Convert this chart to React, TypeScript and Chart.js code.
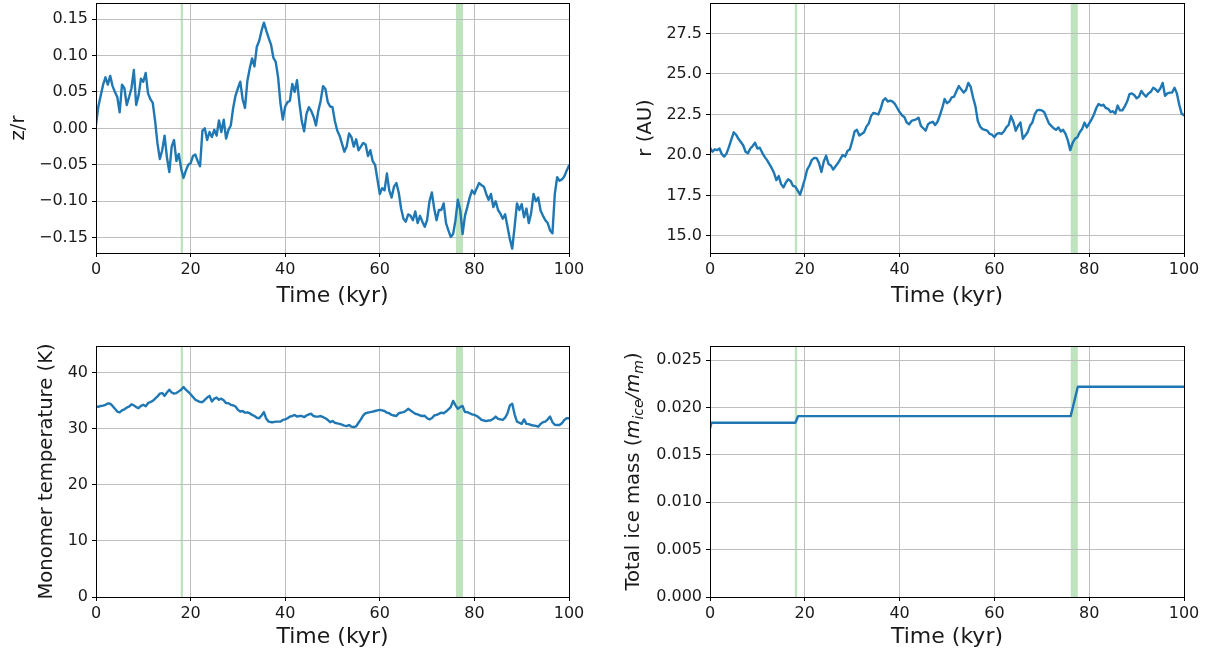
import React, { useEffect, useRef } from "react";
import { Chart, registerables } from "chart.js";

Chart.register(...registerables);

// ---- data -------------------------------------------------------------
// Time series are sampled every T_STEP kyr starting at t = 0.
const T_STEP = 0.5;

const Z_OVER_R = [
  0.005, 0.03, 0.045, 0.06, 0.07, 0.06, 0.072, 0.058, 0.05, 0.043,
  0.022, 0.06, 0.055, 0.032, 0.043, 0.055, 0.08, 0.032, 0.045, 0.068,
  0.064, 0.076, 0.048, 0.04, 0.035, 0.01, -0.021, -0.042, -0.03, -0.01,
  -0.04, -0.06, -0.025, -0.016, -0.045, -0.035, -0.055, -0.068, -0.058, -0.05,
  -0.048, -0.038, -0.036, -0.045, -0.052, -0.003, 0.0, -0.016, -0.005, -0.012,
  -0.002, -0.01, 0.011, -0.005, 0.012, -0.014, -0.002, 0.004, 0.028, 0.045,
  0.055, 0.064, 0.04, 0.028, 0.065, 0.082, 0.096, 0.085, 0.112, 0.12,
  0.134, 0.145, 0.134, 0.124, 0.115, 0.097, 0.091, 0.07, 0.034, 0.012,
  0.03, 0.036, 0.038, 0.061, 0.05, 0.066, 0.035, 0.01, -0.004, 0.02,
  0.029, 0.024, 0.016, 0.004, 0.024, 0.038, 0.058, 0.054, 0.036, 0.03,
  0.029, 0.01, -0.003, -0.01, -0.021, -0.032, -0.025, -0.007, -0.012, -0.025,
  -0.015, -0.03, -0.025, -0.02, -0.022, -0.038, -0.03, -0.045, -0.05, -0.07,
  -0.09, -0.082, -0.085, -0.062, -0.085, -0.095, -0.08, -0.075, -0.088, -0.11,
  -0.124, -0.128, -0.118, -0.12, -0.126, -0.114, -0.13, -0.12, -0.128, -0.135,
  -0.126, -0.1, -0.088, -0.11, -0.126, -0.112, -0.112, -0.103, -0.13, -0.14,
  -0.149, -0.145, -0.126, -0.098, -0.112, -0.145, -0.12, -0.108, -0.095, -0.085,
  -0.09, -0.082, -0.075, -0.078, -0.08, -0.09, -0.098, -0.09, -0.108, -0.1,
  -0.112, -0.117, -0.124, -0.118, -0.135, -0.152, -0.165, -0.135, -0.103, -0.112,
  -0.104, -0.122, -0.11, -0.13, -0.116, -0.09, -0.1, -0.095, -0.113, -0.12,
  -0.126, -0.13, -0.14, -0.144, -0.09, -0.067, -0.072, -0.07, -0.066, -0.058,
  -0.051,
];

const R_AU = [
  20.45, 20.2, 20.35, 20.3, 20.4, 20.05, 19.9, 20.1, 20.5, 20.95,
  21.4, 21.25, 21.0, 20.8, 20.6, 20.2, 20.1, 20.4, 20.55, 20.75,
  20.4, 20.45, 20.15, 19.9, 19.7, 19.45, 19.2, 18.9, 18.45, 18.7,
  18.2, 18.0, 18.3, 18.5, 18.4, 18.1, 18.05, 17.8, 17.55, 18.0,
  18.5, 19.1, 19.35, 19.7, 19.82, 19.8, 19.5, 18.95, 19.6, 19.95,
  19.45, 19.35, 19.1, 19.3, 19.5, 19.75, 20.0, 19.9, 20.25, 20.35,
  20.85, 21.45, 21.55, 21.2, 21.3, 21.4, 21.75, 21.95, 22.42, 22.6,
  22.55, 22.5, 22.85, 23.35, 23.5, 23.3, 23.35, 23.3, 23.15, 22.9,
  22.65, 22.45, 22.35, 22.0, 21.9, 22.1, 22.15, 22.2, 22.3, 21.8,
  21.65, 21.5, 21.9, 22.0, 22.05, 21.85, 22.05, 22.45, 22.9, 23.45,
  23.2, 23.3, 23.55, 23.6, 23.95, 24.25, 24.05, 23.85, 24.0, 24.45,
  24.2, 23.55, 23.0, 22.1, 21.75, 21.6, 21.55, 21.5, 21.3, 21.25,
  21.1, 21.3, 21.35, 21.3, 21.45, 21.7, 21.85, 22.4, 22.05, 21.5,
  21.8, 22.0, 21.0, 21.2, 21.4, 21.8, 22.0, 22.5, 22.75, 22.78,
  22.75, 22.65, 22.3, 21.95, 21.8, 21.65, 21.55, 21.7, 21.45, 21.55,
  21.3, 20.9, 20.3, 20.75, 21.0, 21.1, 21.4, 21.6, 22.0, 21.7,
  21.95, 22.2, 22.5, 22.9, 23.15, 23.05, 23.1, 22.9, 22.85, 22.65,
  22.7, 22.55, 23.05, 22.75, 22.75, 23.0, 23.3, 23.75, 23.8, 23.7,
  23.5, 23.6, 23.95, 23.75, 23.6, 23.8, 23.9, 24.15, 24.05, 23.9,
  24.1, 24.45, 23.65, 23.8, 23.85, 23.85, 24.15, 23.8, 23.1, 22.55,
  22.45,
];

const TEMP_K = [
  34.0, 33.95, 34.1, 34.15, 34.3, 34.55, 34.5, 34.1, 33.6, 33.1,
  32.95, 33.3, 33.5, 33.8, 34.0, 34.4, 34.2, 33.9, 33.7, 34.1,
  34.3, 34.05, 34.6, 34.8, 35.0, 35.4, 35.8, 36.3, 36.4, 35.9,
  36.5, 37.0, 36.5, 36.3, 36.4, 36.7, 37.0, 37.5, 37.0, 36.6,
  36.2, 35.7, 35.2, 35.0, 34.8, 34.8, 35.2, 35.6, 35.9, 34.9,
  35.4, 35.6, 35.2, 35.4, 35.1, 34.6, 34.6, 34.3, 34.2, 34.0,
  33.4, 33.1, 33.2, 32.9, 32.95, 32.8, 32.5, 32.3, 32.0, 31.9,
  32.4, 33.0, 31.8, 31.3, 31.2, 31.2, 31.3, 31.3, 31.3, 31.6,
  31.7, 31.9, 32.2, 32.3, 32.5, 32.2, 32.3, 32.3, 32.1, 32.4,
  32.6, 32.7, 32.3, 32.2, 32.2, 32.3, 32.1, 31.9, 31.6, 31.2,
  31.4, 31.1, 31.0, 30.9, 30.75, 30.6, 30.5, 30.7, 30.4, 30.35,
  30.45, 31.1, 31.7, 32.4, 32.8, 32.9, 33.0, 33.1, 33.2, 33.3,
  33.4, 33.3, 33.2, 32.9, 32.8, 32.5, 32.4, 32.3, 32.8, 32.9,
  33.0, 33.2, 33.6, 33.3, 33.0, 32.7, 32.6, 32.4, 32.3, 32.35,
  31.9, 31.7, 31.9, 32.4, 32.5, 32.7, 32.9, 32.8, 33.1, 33.5,
  33.9, 35.0, 34.2, 33.6, 33.9, 34.1, 33.0, 33.0, 32.8, 32.6,
  32.5, 32.3, 32.0, 31.6, 31.5, 31.4, 31.5, 31.55, 31.8, 32.2,
  31.8, 31.7, 31.6, 32.0, 32.8, 34.2, 34.5, 32.6, 31.3, 31.1,
  30.9, 31.7, 30.9, 30.85, 30.7, 30.6, 30.55, 30.4, 30.9, 31.2,
  31.3, 31.7, 32.2, 31.2, 30.75, 30.7, 30.7, 31.0, 31.6, 31.9,
  31.9,
];

// Ice mass is piecewise: flat plateaus joined by short ramps.
const ICE_TIME = [0, 0.3, 18.0, 18.6, 76.1, 77.6, 100];
const ICE_MASS = [0.0178, 0.0184, 0.0184, 0.0191, 0.0191, 0.0222, 0.0222];

// Shaded intervals (kyr) where ice is deposited.
const BAND_START = [0, 17.9, 76.1];
const BAND_END = [0.2, 18.4, 77.6];

const TIME_TICKS = [0, 20, 40, 60, 80, 100];
const ZR_TICKS = [-0.15, -0.1, -0.05, 0, 0.05, 0.1, 0.15];
const R_TICKS = [15, 17.5, 20, 22.5, 25, 27.5];
const TEMP_TICKS = [0, 10, 20, 30, 40];
const ICE_TICKS = [0, 0.005, 0.01, 0.015, 0.02, 0.025];

// ---- styling ----------------------------------------------------------
const FONT = "'DejaVu Sans', 'Liberation Sans', sans-serif";
const TEXT = "#1a1a1a";
const GRID = "#bebebe";
const LINE = "#1f77b4";
const BAND = "rgba(44,160,44,0.3)";
const TICK_SIZE = 16;
const XTITLE_SIZE = 22;
const YTITLE_SIZE = 19.6;

type Pt = { x: number; y: number };

type PanelSpec = {
  key: string;
  left: number;
  top: number;
  width: number;
  height: number;
  plot: { left: number; top: number; right: number; bottom: number };
  yMin: number;
  yMax: number;
  yTicks: number[];
  decimals: number;
  yTitle: string | null;
  yTitleCenter: number;
  xTitleCenter: number;
  points: Pt[];
};

const series = (values: number[]): Pt[] =>
  values.map((v, i) => ({ x: i * T_STEP, y: v }));

const PANELS: PanelSpec[] = [
  {
    key: "zr",
    left: 0, top: 0, width: 606, height: 312,
    plot: { left: 96, top: 3, right: 569, bottom: 253 },
    yMin: -0.171, yMax: 0.172, yTicks: ZR_TICKS, decimals: 2,
    yTitle: "z/r", yTitleCenter: 18.5, xTitleCenter: 296,
    points: series(Z_OVER_R),
  },
  {
    key: "r",
    left: 606, top: 0, width: 606, height: 312,
    plot: { left: 710, top: 3, right: 1184, bottom: 253 },
    yMin: 13.95, yMax: 29.38, yTicks: R_TICKS, decimals: 1,
    yTitle: "r (AU)", yTitleCenter: 646, xTitleCenter: 296,
    points: series(R_AU),
  },
  {
    key: "temp",
    left: 0, top: 312, width: 606, height: 343,
    plot: { left: 96, top: 346, right: 569, bottom: 597 },
    yMin: 0, yMax: 44.8, yTicks: TEMP_TICKS, decimals: 0,
    yTitle: "Monomer temperature (K)", yTitleCenter: 47, xTitleCenter: 637,
    points: series(TEMP_K),
  },
  {
    key: "ice",
    left: 606, top: 312, width: 606, height: 343,
    plot: { left: 710, top: 346, right: 1184, bottom: 597 },
    yMin: 0, yMax: 0.0265, yTicks: ICE_TICKS, decimals: 3,
    yTitle: null, yTitleCenter: 633, xTitleCenter: 637,
    points: ICE_TIME.map((t, i) => ({ x: t, y: ICE_MASS[i] })),
  },
];

const fmt = (v: number, decimals: number) =>
  v.toFixed(decimals).replace("-", "\u2212");

// Shaded vertical spans behind the grid.
const bandsPlugin = {
  id: "bands",
  beforeDraw(chart: any) {
    const { ctx, chartArea: a, scales } = chart;
    const x = scales.x;
    ctx.save();
    ctx.fillStyle = BAND;
    BAND_START.forEach((s, i) => {
      const x0 = x.getPixelForValue(s);
      const x1 = x.getPixelForValue(BAND_END[i]);
      ctx.fillRect(x0, a.top, Math.max(x1 - x0, 1), a.bottom - a.top);
    });
    ctx.restore();
  },
};

// Full box around the plot area.
const framePlugin = {
  id: "frame",
  afterDraw(chart: any) {
    const { ctx, chartArea: a } = chart;
    ctx.save();
    ctx.strokeStyle = "#000";
    ctx.lineWidth = 1;
    ctx.strokeRect(
      Math.round(a.left) + 0.5,
      Math.round(a.top) + 0.5,
      Math.round(a.right) - Math.round(a.left),
      Math.round(a.bottom) - Math.round(a.top)
    );
    ctx.restore();
  },
};

// Y title with math-style subscripts: Total ice mass (m_ice / m_m)
const iceTitlePlugin = (cxPage: number, spec: PanelSpec) => ({
  id: "iceTitle",
  afterDraw(chart: any) {
    const { ctx } = chart;
    const sub = Math.round(YTITLE_SIZE * 0.7);
    const parts = [
      { text: "Total ice mass (", style: "normal", size: YTITLE_SIZE, dy: 0 },
      { text: "m", style: "italic", size: YTITLE_SIZE, dy: 0 },
      { text: "ice", style: "italic", size: sub, dy: 4 },
      { text: "/", style: "italic", size: YTITLE_SIZE, dy: 0 },
      { text: "m", style: "italic", size: YTITLE_SIZE, dy: 0 },
      { text: "m", style: "italic", size: sub, dy: 4 },
      { text: ")", style: "normal", size: YTITLE_SIZE, dy: 0 },
    ];
    ctx.save();
    let total = 0;
    const widths = parts.map((p) => {
      ctx.font = `${p.style} ${p.size}px ${FONT}`;
      const w = ctx.measureText(p.text).width;
      total += w;
      return w;
    });
    const cx = cxPage - spec.left;
    const cy = (spec.plot.top + spec.plot.bottom) / 2 - spec.top;
    ctx.translate(cx + YTITLE_SIZE * 0.3, cy);
    ctx.rotate(-Math.PI / 2);
    ctx.fillStyle = TEXT;
    ctx.textBaseline = "alphabetic";
    ctx.textAlign = "left";
    let x = -total / 2;
    parts.forEach((p, i) => {
      ctx.font = `${p.style} ${p.size}px ${FONT}`;
      ctx.fillText(p.text, x, p.dy);
      x += widths[i];
    });
    ctx.restore();
  },
});

function buildConfig(spec: PanelSpec): any {
  const yAxisWidth = spec.plot.left - spec.left;
  const xAxisHeight = spec.top + spec.height - spec.plot.bottom;
  const padTop = spec.plot.top - spec.top;
  const padRight = spec.left + spec.width - spec.plot.right;
  const xTitlePad = spec.top + spec.height - spec.xTitleCenter - (XTITLE_SIZE * 1.2) / 2;
  const yTitlePad = spec.yTitleCenter - spec.left - (YTITLE_SIZE * 1.2) / 2;

  const plugins: any[] = [bandsPlugin, framePlugin];
  if (!spec.yTitle) plugins.push(iceTitlePlugin(spec.yTitleCenter, spec));

  return {
    type: "line",
    data: {
      datasets: [
        {
          data: spec.points,
          borderColor: LINE,
          borderWidth: 2.4,
          pointRadius: 0,
          tension: 0,
          fill: false,
          borderJoinStyle: "round",
          borderCapStyle: "round",
        },
      ],
    },
    options: {
      animation: false,
      responsive: false,
      maintainAspectRatio: false,
      events: [],
      layout: { padding: { top: padTop, right: padRight, left: 0, bottom: 0 } },
      plugins: {
        legend: { display: false },
        tooltip: { enabled: false },
        title: { display: false },
      },
      scales: {
        x: {
          type: "linear",
          min: 0,
          max: 100,
          afterBuildTicks: (s: any) => {
            s.ticks = TIME_TICKS.map((v) => ({ value: v }));
          },
          afterFit: (s: any) => {
            s.height = xAxisHeight;
            s.paddingLeft = 0;
            s.paddingRight = 0;
          },
          ticks: {
            autoSkip: false,
            maxRotation: 0,
            padding: 3,
            color: TEXT,
            font: { family: FONT, size: TICK_SIZE },
            callback: (v: number) => String(v),
          },
          grid: {
            color: GRID,
            lineWidth: 1,
            tickColor: "#000",
            tickLength: 4,
            drawTicks: true,
          },
          border: { display: false },
          title: {
            display: true,
            text: "Time (kyr)",
            color: TEXT,
            font: { family: FONT, size: XTITLE_SIZE },
            padding: { top: 0, bottom: xTitlePad },
          },
        },
        y: {
          type: "linear",
          min: spec.yMin,
          max: spec.yMax,
          afterBuildTicks: (s: any) => {
            s.ticks = spec.yTicks.map((v) => ({ value: v }));
          },
          afterFit: (s: any) => {
            s.width = yAxisWidth;
            s.paddingTop = 0;
            s.paddingBottom = 0;
          },
          ticks: {
            autoSkip: false,
            padding: 4,
            color: TEXT,
            font: { family: FONT, size: TICK_SIZE },
            callback: (v: number) => fmt(v, spec.decimals),
          },
          grid: {
            color: GRID,
            lineWidth: 1,
            tickColor: "#000",
            tickLength: 4,
            drawTicks: true,
          },
          border: { display: false },
          title: {
            display: !!spec.yTitle,
            text: spec.yTitle || "",
            color: TEXT,
            font: { family: FONT, size: YTITLE_SIZE },
            padding: { top: yTitlePad, bottom: 0 },
          },
        },
      },
    },
    plugins,
  };
}

function Panel({ spec }: { spec: PanelSpec }) {
  const ref = useRef<HTMLCanvasElement | null>(null);
  useEffect(() => {
    if (!ref.current) return;
    const chart = new Chart(ref.current, buildConfig(spec));
    return () => chart.destroy();
  }, [spec]);
  return (
    <div
      style={{
        position: "absolute",
        left: spec.left,
        top: spec.top,
        width: spec.width,
        height: spec.height,
      }}
    >
      <canvas
        ref={ref}
        width={spec.width}
        height={spec.height}
        style={{ display: "block", width: spec.width, height: spec.height }}
      />
    </div>
  );
}

export default function App() {
  return (
    <div
      style={{
        position: "absolute",
        left: 0,
        top: 0,
        width: 1212,
        height: 655,
        background: "#fff",
        overflow: "hidden",
      }}
    >
      {PANELS.map((p) => (
        <Panel key={p.key} spec={p} />
      ))}
    </div>
  );
}
